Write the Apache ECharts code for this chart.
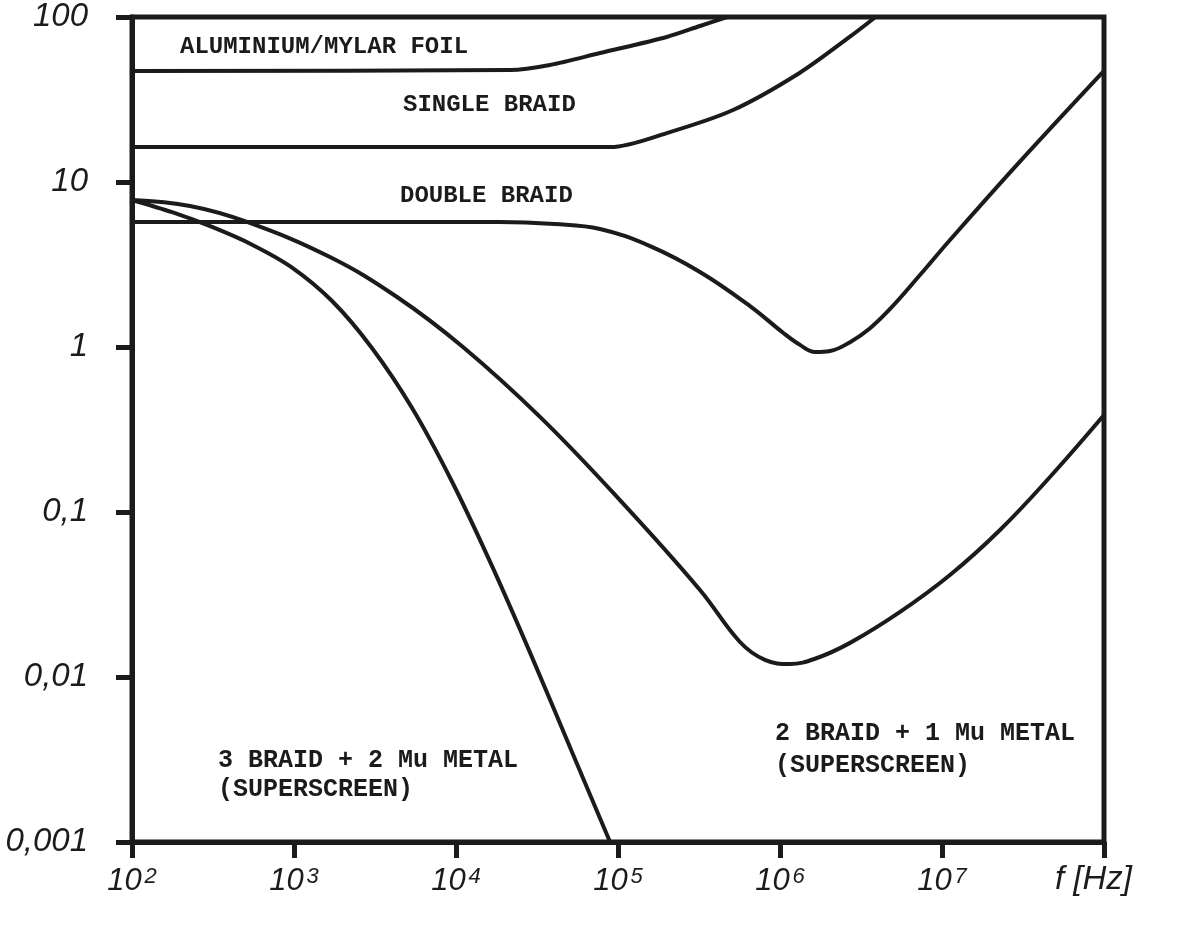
<!DOCTYPE html>
<html>
<head>
<meta charset="utf-8">
<script src="https://cdn.jsdelivr.net/npm/echarts@6/dist/echarts.min.js"></script>
<style>
html,body{margin:0;padding:0;background:#fff;}
#chart{width:1198px;height:950px;}
</style>
</head>
<body>
<div id="chart"></div>
<script>
// ---- data (frequency in Hz, value dimensionless) ----
const foilFreq   = [100, 21500, 38000, 77400, 200000, 320600, 471000];
const foilVal    = [47.1, 47.7, 51.2, 60.5, 75.7, 88.2, 100];

const singleFreq = [100, 90000, 200000, 513000, 1320000, 2690000, 3890000];
const singleVal  = [16.3, 16.3, 19.8, 27.3, 45.8, 75.7, 100];

const doubleFreq = [100, 18600, 40800, 77400, 157800, 320600, 653000, 1045000, 1329000, 1645000, 2036000, 2706000, 3597000, 4778000, 7310000, 11200000, 29000000, 98600000];
const doubleVal  = [5.73, 5.73, 5.56, 5.19, 4.09, 2.85, 1.77, 1.22, 1.03, 0.933, 0.946, 1.07, 1.30, 1.70, 2.73, 4.45, 12.7, 46.5];

const mu1Freq = [100, 228, 513, 1667, 4325, 11040, 33000, 102800, 320600, 566000, 807000, 1153000, 1645000, 2706000, 5510000, 11200000, 22800000, 46400000, 100000000];
const mu1Val  = [7.78, 7.16, 5.73, 3.51, 2.01, 1.0, 0.377, 0.118, 0.0337, 0.0163, 0.0127, 0.0120, 0.0129, 0.0161, 0.0248, 0.0415, 0.0778, 0.163, 0.387];

const mu2Freq = [100, 177, 312, 551, 973, 1718, 3027, 5346, 9441, 16670, 29440, 52000, 89300];
const mu2Val  = [7.78, 6.56, 5.34, 4.17, 3.03, 1.90, 0.987, 0.428, 0.153, 0.0471, 0.0132, 0.00351, 0.001];

const yTickValues = [0.001, 0.01, 0.1, 1, 10, 100];
const yTickLabels = ['0,001', '0,01', '0,1', '1', '10', '100'];
const xTickExponents = ['2', '3', '4', '5', '6', '7'];

const annotations = [
  {text: 'ALUMINIUM/MYLAR FOIL', x: 180, y: 47, size: 24},
  {text: 'SINGLE BRAID', x: 403, y: 105, size: 24},
  {text: 'DOUBLE BRAID', x: 400, y: 196, size: 24},
  {text: '3 BRAID + 2 Mu METAL', x: 218, y: 761, size: 25},
  {text: '(SUPERSCREEN)', x: 218, y: 790, size: 25},
  {text: '2 BRAID + 1 Mu METAL', x: 775, y: 734, size: 25},
  {text: '(SUPERSCREEN)', x: 775, y: 766, size: 25}
];

// ---- chart ----
const INK = '#1b1b1b';
const zip = (a, b) => a.map((v, i) => [v, b[i]]);
const handFont = '"Liberation Sans", "DejaVu Sans", sans-serif';

function lineSeries(name, f, v, s) {
  return {
    name, type: 'line', data: zip(f, v), showSymbol: false, symbol: 'none',
    smooth: s, clip: true,
    lineStyle: {color: INK, width: 4, cap: 'round', join: 'round'}
  };
}

const chart = echarts.init(document.getElementById('chart'), null, {renderer: 'canvas'});
chart.setOption({
  backgroundColor: '#ffffff',
  animation: false,
  grid: {left: 132, right: 94, top: 17, bottom: 108, show: true, borderColor: INK, borderWidth: 5, backgroundColor: 'transparent'},
  xAxis: {
    type: 'log', logBase: 10, min: 100, max: 1e8, splitNumber: 6,
    axisLine: {show: true, onZero: false, lineStyle: {color: INK, width: 5}},
    axisTick: {show: true, inside: false, length: 16, lineStyle: {color: INK, width: 5}},
    splitLine: {show: false}, minorTick: {show: false},
    axisLabel: {
      margin: 24,
      formatter: function (v) {
        const e = Math.round(Math.log10(v));
        const idx = e - 2;
        if (idx < 0 || idx >= xTickExponents.length) return '';
        return '{b|10}{s|' + xTickExponents[idx] + '}';
      },
      rich: {
        b: {fontSize: 31, fontStyle: 'italic', fontFamily: handFont, color: INK},
        s: {fontSize: 22, fontStyle: 'italic', fontFamily: handFont, color: INK, verticalAlign: 'top', padding: [0, 0, 0, 3]}
      }
    }
  },
  yAxis: {
    type: 'log', logBase: 10, min: 0.001, max: 100, splitNumber: 5,
    axisLine: {show: true, onZero: false, lineStyle: {color: INK, width: 5}},
    axisTick: {show: true, inside: false, length: 16, lineStyle: {color: INK, width: 5}},
    splitLine: {show: false}, minorTick: {show: false},
    axisLabel: {
      margin: 44, fontSize: 33, fontStyle: 'italic', fontFamily: handFont, color: INK,
      formatter: function (v) {
        const lv = Math.log10(v);
        let best = 0;
        for (let i = 0; i < yTickValues.length; i++) {
          if (Math.abs(Math.log10(yTickValues[i]) - lv) < Math.abs(Math.log10(yTickValues[best]) - lv)) best = i;
        }
        return yTickLabels[best];
      }
    }
  },
  series: [
    lineSeries('Aluminium/Mylar foil', foilFreq, foilVal, 0.3),
    lineSeries('Single braid', singleFreq, singleVal, 0.3),
    lineSeries('Double braid', doubleFreq, doubleVal, 0.4),
    lineSeries('2 braid + 1 Mu metal', mu1Freq, mu1Val, 0.4),
    lineSeries('3 braid + 2 Mu metal', mu2Freq, mu2Val, 0.3)
  ],
  graphic: annotations.map(a => ({
    type: 'text', x: a.x, y: a.y, z: 10,
    style: {text: a.text, fill: INK, fontSize: a.size, fontWeight: 'bold', fontFamily: '"Liberation Mono", "DejaVu Sans Mono", monospace', verticalAlign: 'middle', align: 'left'}
  })).concat([{
    type: 'text', x: 1055, y: 880, z: 10,
    style: {text: 'f [Hz]', fill: INK, fontSize: 33, fontStyle: 'italic', fontFamily: handFont, verticalAlign: 'middle', align: 'left'}
  }])
});
</script>
</body>
</html>
